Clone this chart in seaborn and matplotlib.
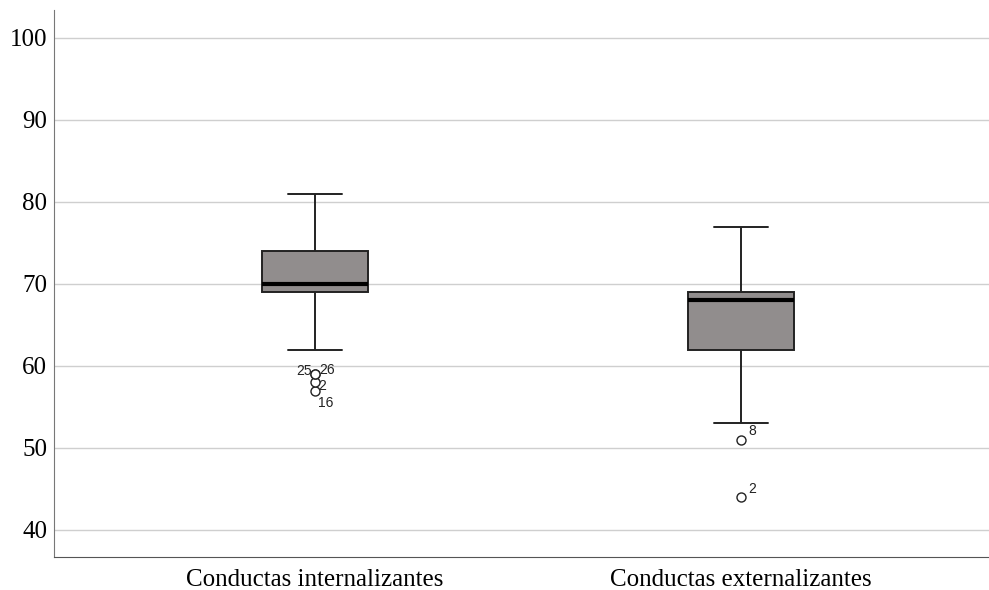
import numpy as np
import pandas as pd
import matplotlib
matplotlib.use("Agg")
import matplotlib.pyplot as plt
import seaborn as sns

# categories and per-group scores (chosen so quartiles/whiskers match the chart)
categories = ["Conductas internalizantes", "Conductas externalizantes"]
internalizantes = [57, 58, 59, 59, 62, 65, 67, 69, 69, 69, 69, 70, 70, 70, 70,
                   71, 72, 72, 73, 73, 74, 74, 75, 76, 77, 78, 79, 80, 81]
externalizantes = [44, 51, 53, 55, 57, 59, 61, 62, 63, 64, 65, 66, 67, 67, 68,
                   68, 68, 68, 69, 69, 69, 69, 70, 71, 72, 73, 74, 75, 77]

# outlier case labels: (category index, value, label, dx, dy, ha)
outlier_labels = [
    (0, 59, "25", -2, 2, "right"),
    (0, 59, "26", 3, 3, "left"),
    (0, 58, "2", 2, -3, "left"),
    (0, 57, "16", 2, -9, "left"),
    (1, 51, "8", 5, 6, "left"),
    (1, 44, "2", 5, 6, "left"),
]

df = pd.DataFrame({
    "grupo": [categories[0]] * len(internalizantes) + [categories[1]] * len(externalizantes),
    "valor": internalizantes + externalizantes,
})

sns.set_style("white")
plt.rcParams["font.family"] = ["Liberation Serif", "DejaVu Serif"]

fig = plt.figure(figsize=(9.89, 5.90), dpi=100)
ax = fig.add_axes([0.0546, 0.056, 0.9454, 0.927])

sns.boxplot(data=df, x="grupo", y="valor", order=categories, width=0.25,
            color="#918d8d", saturation=1, linecolor="#222222", linewidth=1.4,
            whis=1.5, ax=ax,
            medianprops={"color": "black", "linewidth": 3},
            flierprops={"marker": "o", "markersize": 6.5, "markerfacecolor": "white",
                        "markeredgecolor": "#222222", "markeredgewidth": 1.0},
            capprops={"color": "#222222", "linewidth": 1.4})

for idx, val, lab, dx, dy, ha in outlier_labels:
    ax.annotate(lab, (idx, val), xytext=(dx, dy), textcoords="offset points",
                ha=ha, va="center", fontsize=10, family="Liberation Sans", color="#222222")

ax.set_ylim(36.7, 103.4)
ax.set_xlim(-0.613, 1.582)
ax.set_yticks(range(40, 101, 10))
ax.yaxis.grid(True, color="#cfcfcf", linewidth=1.0)
ax.set_axisbelow(True)
ax.tick_params(axis="both", length=0, labelsize=18, colors="black")
ax.tick_params(axis="y", pad=5)
ax.tick_params(axis="x", pad=9)
ax.set_xlabel("")
ax.set_ylabel("")
for s in ["top", "right"]:
    ax.spines[s].set_visible(False)
ax.spines["left"].set_color("#777777")
ax.spines["bottom"].set_color("#555555")

fig.savefig("out.png", dpi=100)
